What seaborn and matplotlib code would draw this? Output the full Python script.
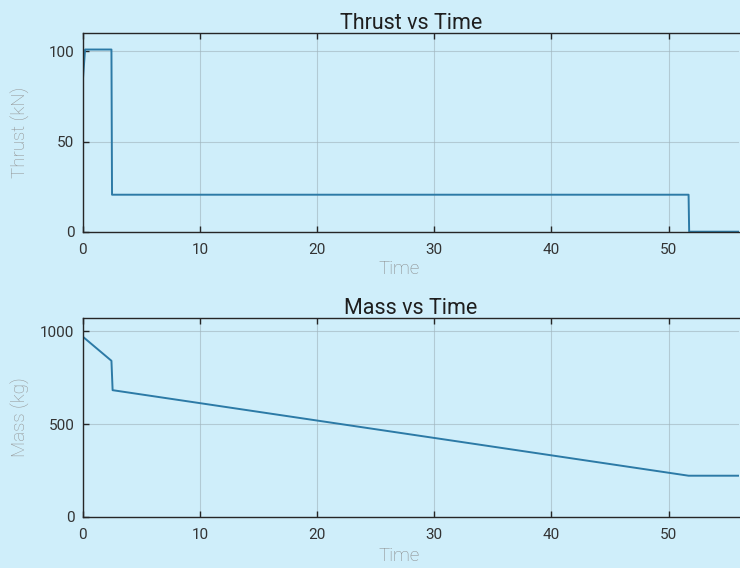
import matplotlib
matplotlib.use("Agg")
import matplotlib.pyplot as plt
import seaborn as sns
import pandas as pd

sns.set_theme(style="ticks")
plt.rcParams['font.family'] = ['Roboto', 'DejaVu Sans']

# Data
thrust_time = [0.0, 0.2, 2.45, 2.5, 51.7, 51.75, 56.0]
thrust_kN = [83.0, 101.0, 101.0, 20.5, 20.5, 0.0, 0.0]
mass_time = [0.0, 2.45, 2.55, 51.7, 56.0]
mass_kg = [970.0, 840.0, 682.0, 222.0, 222.0]

x_ticks = [0, 10, 20, 30, 40, 50]
thrust_ticks = [0, 50, 100]
mass_ticks = [0, 500, 1000]

bg = "#cfeefa"
line_c = "#2c7aa6"
fig = plt.figure(figsize=(7.4, 5.68), dpi=100, facecolor=bg)
ax1 = fig.add_axes([0.1118, 0.5921, 0.8868, 0.3493])
ax2 = fig.add_axes([0.1118, 0.0898, 0.8868, 0.3503])

df1 = pd.DataFrame({"Time": thrust_time, "Thrust": thrust_kN})
df2 = pd.DataFrame({"Time": mass_time, "Mass": mass_kg})

sns.lineplot(data=df1, x="Time", y="Thrust", ax=ax1, color=line_c, lw=1.4,
             sort=False, estimator=None)
sns.lineplot(data=df2, x="Time", y="Mass", ax=ax2, color=line_c, lw=1.4,
             sort=False, estimator=None)

for ax, yl, yt, ylab, title, xpad in [
    (ax1, (0, 110), thrust_ticks, "Thrust (kN)", "Thrust vs Time", 2),
    (ax2, (0, 1070), mass_ticks, "Mass (kg)", "Mass vs Time", 3.5),
]:
    ax.set_facecolor(bg)
    ax.set_xlim(0, 56)
    ax.set_ylim(*yl)
    ax.set_xticks(x_ticks)
    ax.set_yticks(yt)
    ax.grid(True, color="#9fb3bb", alpha=0.6, lw=0.8)
    ax.tick_params(direction="in", length=4, width=1, colors="#262626",
                   labelsize=11, labelcolor="#333333", top=True)
    ax.tick_params(axis="x", pad=8)
    ax.tick_params(axis="y", pad=6)
    ax.spines["right"].set_visible(False)
    for s in ["left", "top", "bottom"]:
        ax.spines[s].set_color("#262626")
        ax.spines[s].set_linewidth(1.0)
    ax.set_xlabel("Time", color="#888888", fontsize=13.5, fontweight="light", labelpad=xpad)
    ax.xaxis.label.set_x(0.4825)
    ax.set_ylabel(ylab, color="#929292", fontsize=13.5, fontweight="light")
    ax.yaxis.set_label_coords(-0.080, 0.5)
    ax.set_title(title, color="#1e1e1e", fontsize=15.5, fontweight="normal", pad=3)

fig.savefig("out.png", dpi=100, facecolor=bg)
